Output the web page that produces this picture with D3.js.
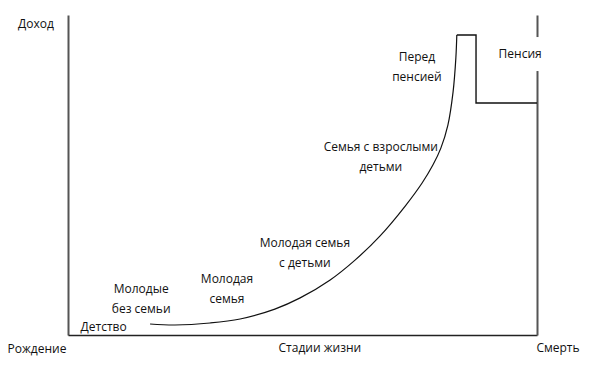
<!DOCTYPE html>
<html>
<head>
<meta charset="utf-8">
<script src="https://cdn.jsdelivr.net/npm/d3@7"></script>
<style>
  body { margin: 0; background: #fff; }
  svg text { font-family: "Open Sans", "Noto Sans", sans-serif; font-size: 12px; fill: #111; }
</style>
</head>
<body>
<div id="app"></div>
<script>
// life stage (0 = birth, 100 = death) vs income (0..100)
const age    = [17.5, 22.8, 30.3, 36.7, 44.1, 49.5, 55.9, 61.2, 66.5, 71.9, 75.5, 77.8, 79.5, 81.0, 82.1, 82.7, 82.9];
const income = [3.44, 3.13, 3.75, 5.0, 8.1, 11.6, 17.2, 23.4, 30.9, 40.3, 47.5, 53.1, 58.4, 65.6, 75.9, 86.6, 93.75];
// pension step after the peak
const stepAge    = [82.9, 87.0, 87.0, 100];
const stepIncome = [93.75, 93.75, 72.5, 72.5];

// stage captions: text lines + anchor (age, income)
const stages = [
  { lines: ["Детство"], a: 7.6, v: 2.5 },
  { lines: ["Молодые", "без семьи"], a: 15.6, v: 14.4 },
  { lines: ["Молодая", "семья"], a: 33.9, v: 17.5 },
  { lines: ["Молодая семья", "с детьми"], a: 50.5, v: 28.8 },
  { lines: ["Семья с взрослыми", "детьми"], a: 66.7, v: 58.8 },
  { lines: ["Перед", "пенсией"], a: 74.4, v: 86.9 }
];
const axisLabels = { yTop: "Доход", xStart: "Рождение", xMid: "Стадии жизни", xEnd: "Смерть", pension: "Пенсия" };

const W = 589, H = 367;
const svg = d3.select("#app").append("svg").attr("width", W).attr("height", H);

const x = d3.scaleLinear().domain([0, 100]).range([68, 537]);
const y = d3.scaleLinear().domain([0, 100]).range([335, 15]);

// axes: plain lines, no ticks
svg.append("g").attr("transform", `translate(${x(0)},0)`)
  .call(d3.axisLeft(y).tickValues([]).tickSizeOuter(0))
  .select(".domain").attr("stroke", "#555").attr("stroke-width", 2);
svg.append("g").attr("transform", `translate(0,${y(0)})`)
  .call(d3.axisBottom(x).tickValues([]).tickSizeOuter(0))
  .select(".domain").attr("stroke", "#222").attr("stroke-width", 1.5);
svg.append("g").attr("transform", `translate(${x(100)},0)`)
  .call(d3.axisRight(y).tickValues([]).tickSizeOuter(0))
  .select(".domain").attr("stroke", "#555").attr("stroke-width", 2);

// income curve
svg.append("path")
  .datum(d3.zip(age, income))
  .attr("d", d3.line().x(d => x(d[0])).y(d => y(d[1])).curve(d3.curveCatmullRom.alpha(0.5)))
  .attr("fill", "none").attr("stroke", "#111").attr("stroke-width", 1.2);

svg.append("path")
  .datum(d3.zip(stepAge, stepIncome))
  .attr("d", d3.line().x(d => x(d[0])).y(d => y(d[1])))
  .attr("fill", "none").attr("stroke", "#111").attr("stroke-width", 1.4);

// pension label breaks the right line
const pg = svg.append("g").attr("transform", `translate(${x(96.4)},${y(87.8)})`);
pg.append("rect").attr("x", -26).attr("y", -17).attr("width", 52).attr("height", 34).attr("fill", "#fff");
pg.append("text").attr("text-anchor", "middle").attr("dy", "0.35em").text(axisLabels.pension);

// stage captions
stages.forEach(s => {
  const t = svg.append("text").attr("text-anchor", "middle")
    .attr("transform", `translate(${x(s.a)},${y(s.v)})`);
  s.lines.forEach((l, i) => t.append("tspan").attr("x", 0).attr("y", i * 20).attr("dy", "0.35em").text(l));
});

// axis captions
svg.append("text").attr("x", 36).attr("y", 24).attr("dy", "0.35em").attr("text-anchor", "middle").text(axisLabels.yTop);
svg.append("text").attr("x", 37).attr("y", 349).attr("dy", "0.35em").attr("text-anchor", "middle").text(axisLabels.xStart);
svg.append("text").attr("x", x(53.7)).attr("y", 348).attr("dy", "0.35em").attr("text-anchor", "middle").text(axisLabels.xMid);
svg.append("text").attr("x", 558).attr("y", 348).attr("dy", "0.35em").attr("text-anchor", "middle").text(axisLabels.xEnd);
</script>
</body>
</html>
